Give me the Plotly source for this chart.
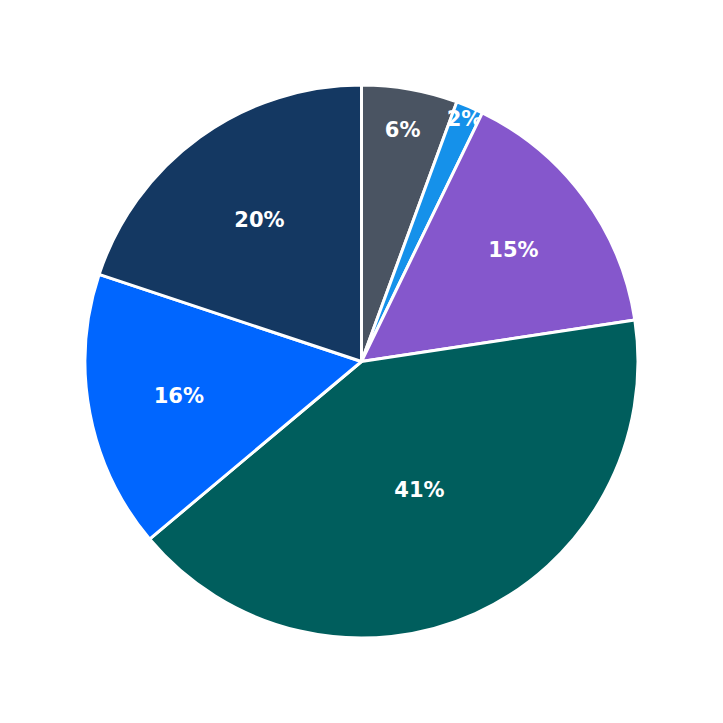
import plotly.graph_objects as go

labels = ["A", "B", "C", "D", "E", "F"]
values = [5.6, 1.6, 15.4, 41.3, 16.2, 19.9]
colors = ["#4a5462", "#1591ea", "#8557cc", "#005e5d", "#0066ff", "#143862"]

fig = go.Figure(go.Pie(
    labels=labels,
    values=values,
    sort=False,
    direction="clockwise",
    rotation=0,
    marker=dict(colors=colors, line=dict(color="white", width=3)),
    texttemplate="%{percent:.0%}",
    textposition="inside",
    insidetextorientation="horizontal",
    textfont=dict(family="DejaVu Sans", size=21, color="white", weight="bold"),
    hoverinfo="label+percent",
))

fig.update_layout(
    width=723, height=723,
    showlegend=False,
    margin=dict(l=77, r=93, t=77, b=93),
    paper_bgcolor="white",
    uniformtext=dict(minsize=21, mode="show"),
)

fig.write_html("out.html")
